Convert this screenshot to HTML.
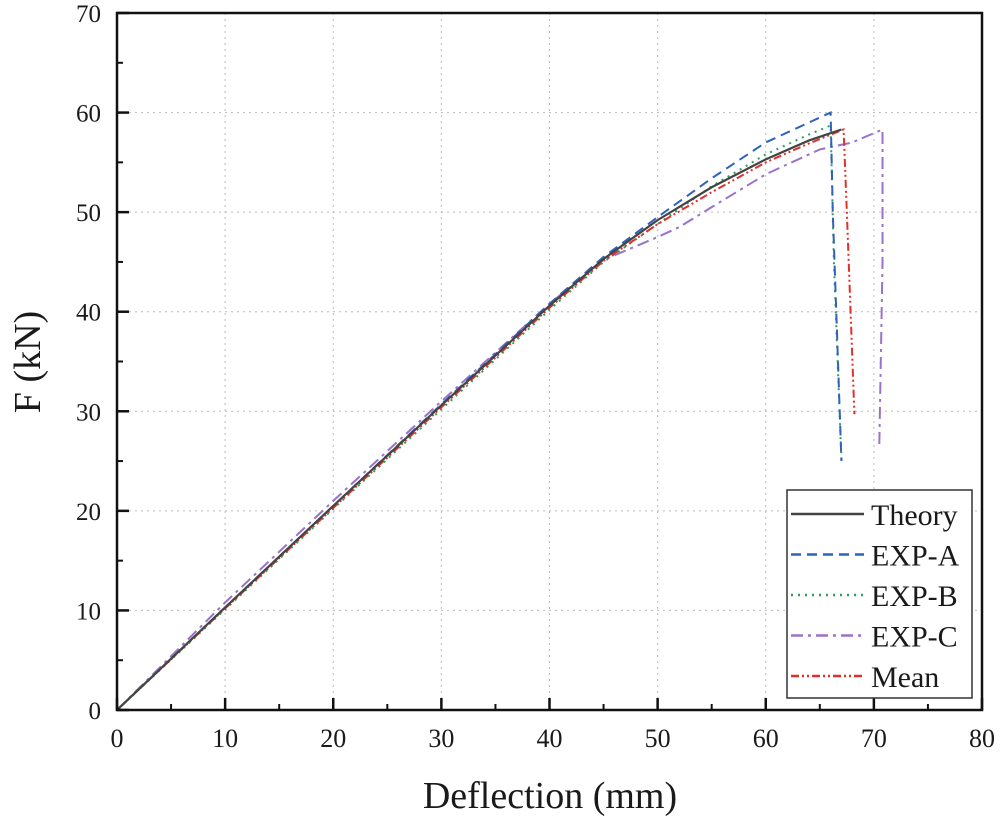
<!DOCTYPE html>
<html><head><meta charset="utf-8"><style>
body{margin:0;background:#fff;}
svg text{font-family:"Liberation Serif",serif;fill:#1a1a1a;}
</style></head><body>
<svg id="chart" width="1000" height="820" xmlns="http://www.w3.org/2000/svg">
<g id="grid"></g>
<g id="series"></g>
<rect x="117" y="13" width="865" height="697" fill="none" stroke="#111" stroke-width="2.5"/>
<g id="axes"></g>
<text x="550" y="808" font-size="38" text-anchor="middle">Deflection (mm)</text>
<text x="40" y="362" font-size="38" text-anchor="middle" transform="rotate(-90 40 362)">F (kN)</text>
<g>
<rect x="787" y="490" width="185" height="208" fill="#fff" stroke="#333" stroke-width="1.5"/>
<g id="legend-items"></g>
</g>
</svg>
<script>
const xTicks=[0,10,20,30,40,50,60,70,80];
const yTicks=[0,10,20,30,40,50,60,70];
const seriesNames=["Theory","EXP-A","EXP-B","EXP-C","Mean"];
const theoryX=[0,10,20,30,40,45,50,55,60,64,67];
const theoryY=[0,10.3,20.5,30.6,40.6,45.3,49.2,52.5,55.3,57.2,58.3];
const expAX=[0,10,20,30,40,45,50,55,60,64,66,66.2,67];
const expAY=[0,10.3,20.5,30.7,40.8,45.5,49.5,53.4,57,59,60,50,25];
const expBX=[0,10,20,30,40,45,50,55,60,64,66,66.3,67];
const expBY=[0,10.1,20.2,30.2,40.2,45,48.8,52.6,55.8,57.8,58.7,45,25];
const expCX=[0,10,20,30,40,45,50,52,55,60,65,68,70.8,70.8,70.5];
const expCY=[0,10.8,21,31,40.8,45.2,47.5,48.5,50.5,53.8,56.3,57,58.3,45,26.5];
const meanX=[0,10,20,30,40,45,50,55,60,64,67.2,67.5,68.2];
const meanY=[0,10.2,20.3,30.4,40.4,45.1,48.8,52,55,56.9,58.3,50,29.7];
const NS="http://www.w3.org/2000/svg";
const X=v=>117+v*(865/80), Y=v=>710-v*(697/70);
const grid=document.getElementById('grid'),axes=document.getElementById('axes'),ser=document.getElementById('series');
function mk(tag,attrs,parent){const e=document.createElementNS(NS,tag);for(const k in attrs)e.setAttribute(k,attrs[k]);parent.appendChild(e);return e;}
xTicks.forEach((t,i)=>{
 if(i>0&&i<xTicks.length-1){const g=mk('line',{x1:X(t),x2:X(t),y1:13,y2:710,stroke:'#bbb','stroke-dasharray':'2 4','stroke-width':1},grid);
 
 }
 const tk=mk('line',{x1:X(t),x2:X(t),y1:710,y2:698,stroke:'#111','stroke-width':2.5},axes);
 
 
 if(i<xTicks.length-1){const m=mk('line',{x1:X(t+5),x2:X(t+5),y1:710,y2:704,stroke:'#111','stroke-width':2},axes);
 
 }
 const l=mk('text',{x:X(t),y:747,'font-size':26,'text-anchor':'middle'},axes);l.textContent=t;
 
 
});
yTicks.forEach((t,i)=>{
 if(i>0&&i<yTicks.length-1){const g=mk('line',{x1:117,x2:982,y1:Y(t),y2:Y(t),stroke:'#bbb','stroke-dasharray':'2 4','stroke-width':1},grid);
 
 }
 const tk=mk('line',{x1:117,x2:129,y1:Y(t),y2:Y(t),stroke:'#111','stroke-width':2.5},axes);
 
 
 if(i<yTicks.length-1){const m=mk('line',{x1:117,x2:123,y1:Y(t+5),y2:Y(t+5),stroke:'#111','stroke-width':2},axes);
 
 }
 const l=mk('text',{x:101,y:Y(t)+9,'font-size':25,'text-anchor':'end'},axes);l.textContent=t;
 
 
});
const styles=[
 {c:'#444',d:'',w:2.2},{c:'#2f62b8',d:'10 6',w:2},{c:'#2e9e5c',d:'2 5',w:2},{c:'#9a72c8',d:'12 5 3 5',w:2},{c:'#e0302a',d:'8 3 2 3 2 3',w:2}];
const data=[[theoryX,theoryY],[expAX,expAY],[expBX,expBY],[expCX,expCY],[meanX,meanY]];
const order=[3,2,1,4,0];
order.forEach(i=>{
 const [xs,ys]=data[i];
 const p=mk('polyline',{points:xs.map((x,j)=>X(x)+','+Y(ys[j])).join(' '),fill:'none',stroke:styles[i].c,'stroke-width':styles[i].w,'stroke-dasharray':styles[i].d},ser);
 
 
});
const li=document.getElementById('legend-items');
seriesNames.forEach((n,i)=>{
 const y=514+i*40.5;
 const l=mk('line',{x1:791,x2:864,y1:y,y2:y,stroke:styles[i].c,'stroke-width':2.5,'stroke-dasharray':styles[i].d},li);
 
 
 const t=mk('text',{x:871,y:y+11,'font-size':30},li);t.textContent=n;
 
 
});
</script>
</body></html>
